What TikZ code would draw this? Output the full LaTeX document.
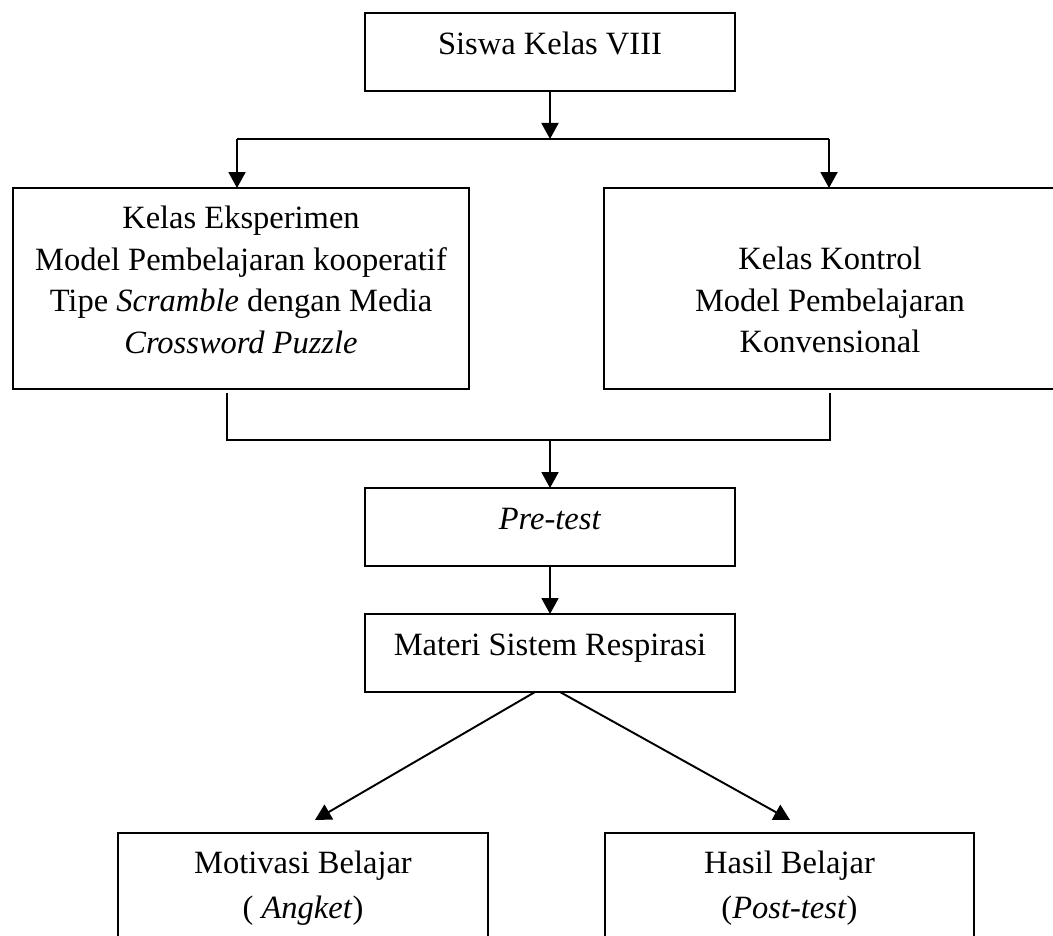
\documentclass[tikz,border=0pt]{standalone}
\usepackage{fontspec}
\setmainfont{Liberation Serif}
\usetikzlibrary{arrows.meta}

\tikzset{
  kotak/.style={draw,line width=1.1pt,inner sep=0pt,outer sep=0pt,align=center,
    font=\fontsize{18.5}{23.65}\selectfont},
  satu/.style={kotak,minimum width=7.4cm,minimum height=1.56cm,text height=12pt,text depth=9pt},
  panah/.style={line width=1.1pt,-{Triangle[length=0.32cm,width=0.34cm]}},
  garis/.style={line width=1.1pt}
}

\begin{document}
\begin{tikzpicture}[x=0.02cm,y=-0.02cm]
      \useasboundingbox (0,0) rectangle (1053,935);

      %%%%%%%%%%%%%%%%%%%%%%%%%%%%%%%%%%%%%%%%%%%%%%%%%%%%%%%%%%%%%%%%%%%%%%%%%%%
      \node[satu] (siswa) at (550,52) {Siswa Kelas VIII};

      \node[kotak,minimum width=9.12cm,minimum height=4.02cm,text depth=10pt] (eksp) at (241,288.5)
        {Kelas Eksperimen\\Model Pembelajaran kooperatif\\Tipe \textit{Scramble} dengan Media\\\textit{Crossword Puzzle}};
      \node[kotak,minimum width=9.04cm,minimum height=4.02cm,text height=73.4pt,text depth=0pt] (kontrol) at (830,288.5)
        {Kelas Kontrol\\Model Pembelajaran\\Konvensional};

      \node[satu] (pretest) at (550,527) {\textit{Pre-test}};
      \node[satu] (materi) at (550,653) {Materi Sistem Respirasi};

      \node[kotak,minimum width=7.4cm,minimum height=2.2cm,text depth=4.3pt,
        font=\fontsize{18.5}{25.6}\selectfont] (motivasi) at (303,888)
        {Motivasi Belajar\\( \textit{Angket})};
      \node[kotak,minimum width=7.38cm,minimum height=2.2cm,text depth=4.3pt,
        font=\fontsize{18.5}{25.6}\selectfont] (hasil) at (789.5,888)
        {Hasil Belajar\\(\textit{Post-test})};

      %%%%%%%%%%%%%%%%%%%%%%%%%%%%%%%%%%%%%%%%%%%%%%%%%%%%%%%%%%%%%%%%%%%%%%%%%%%
      %%%%  Cabang atas
      \coordinate (split) at (550,139);
      \coordinate (splitL) at (237,139);
      \coordinate (splitR) at (829,139);

      \draw[panah] (siswa) -- (split);
      \draw[garis] (splitL) -- (splitR);
      \draw[panah] (splitL) -- (splitL |- eksp.north);
      \draw[panah] (splitR) -- (splitR |- kontrol.north);

      %%%%  Gabung
      \coordinate (join) at (550,440);
      \coordinate (joinL) at (227,440);
      \coordinate (joinR) at (830,440);

      \draw[garis,shorten <=0.08cm,shorten >=0.08cm] (joinL |- eksp.south) -- (joinL)
        -- (joinR) -- (joinR |- kontrol.south);
      \draw[panah] (join) -- (pretest);
      \draw[panah] (pretest) -- (materi);

      %%%%  Ke bawah
      \coordinate (tipL) at (315,820);
      \coordinate (tipR) at (790,820);

      \draw[panah] ([xshift=-0.3cm]materi.south) -- (tipL);
      \draw[panah] ([xshift=0.2cm]materi.south) -- (tipR);
    \end{tikzpicture}
\end{document}
